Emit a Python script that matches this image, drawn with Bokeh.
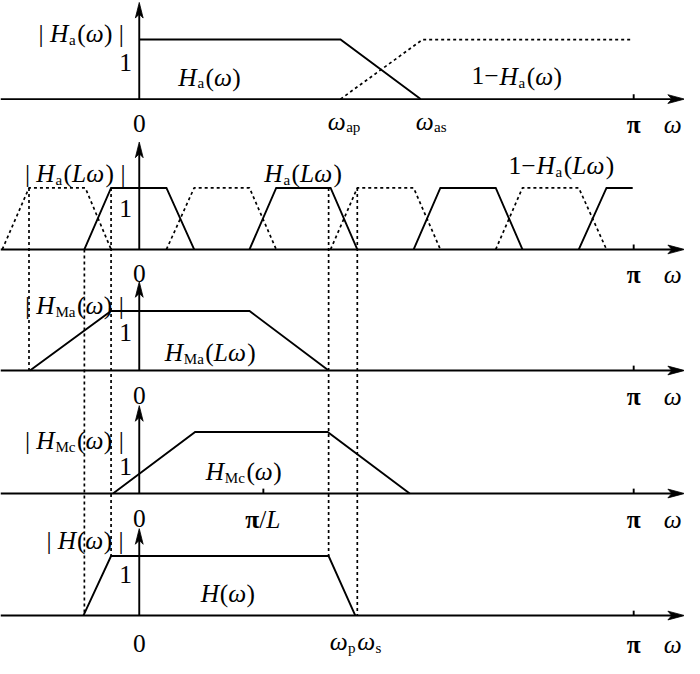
from bokeh.plotting import figure
from bokeh.models import Range1d, ColumnDataSource
from bokeh.core.properties import value
from bokeh.embed import file_html
from bokeh.resources import INLINE

# ---------------- data: frequencies in units of pi, magnitudes 0..1 ----------------
L = 6
Ha_w = [0.0, 0.407, 0.569]          # |Ha(w)|, passband edge w_ap, stopband edge w_as
Ha_v = [1, 1, 0]
Hc_w = [0.407, 0.573, 0.998]        # 1 - Ha(w)
Hc_v = [0, 1, 1]

HaL_w = [[-0.111, -0.057, 0.055, 0.111], [0.223, 0.277, 0.387, 0.441],
         [0.555, 0.609, 0.721, 0.775], [0.889, 0.945, 0.998]]
HaL_v = [[0, 1, 1, 0], [0, 1, 1, 0], [0, 1, 1, 0], [0, 1, 1]]
HcL_w = [[-0.277, -0.223, -0.109, -0.057], [0.055, 0.111, 0.223, 0.277],
         [0.387, 0.441, 0.555, 0.609], [0.721, 0.775, 0.889, 0.945]]
HcL_v = [[0, 1, 1, 0], [0, 1, 1, 0], [0, 1, 1, 0], [0, 1, 1, 0]]

HMa_w = [-0.221, -0.057, 0.223, 0.383]
HMa_v = [0, 1, 1, 0]
HMc_w = [-0.053, 0.113, 0.381, 0.547]
HMc_v = [0, 1, 1, 0]
H_w = [-0.113, -0.057, 0.383, 0.437]
H_v = [0, 1, 1, 0]

# dotted guide lines: frequency, (panel, level) at top, (panel, level) at bottom
guide_w = [-0.223, -0.111, -0.057, 0.383, 0.441]
guide_top = [(1, 1), (1, 0), (1, 1), (1, 1), (1, 1)]
guide_bot = [(2, 0), (4, 0), (4, 1), (4, 1), (4, 0)]

pi_tick = 1.0
piL_tick = 0.251

# ---------------- layout (original picture coordinates) ----------------
OW, OH = 700, 674
W, H = 684, 658
X_ZERO, X_SCALE = 142, 506
BASE = [101, 255, 379, 505, 630]
AMP = [61, 63, 61, 63, 61]
YTOP = [2, 145, 288, 415, 541]
TICKLAB = [126, 280, 405, 531, 659]
ONELAB = [64, 213, 340, 477, 588]
X_END = 700

F, S = 26.0, 15.5
SUB_DROP = 7
K = W / OW
FONT = "Liberation Serif"


def X(ws):
    return [X_ZERO + X_SCALE * w for w in ws]


def Y(k, vs):
    return [BASE[k] - AMP[k] * v for v in vs]


p = figure(width=W, height=H, x_range=Range1d(0, OW), y_range=Range1d(OH, 0),
           output_backend="svg", toolbar_location=None,
           x_axis_type=None, y_axis_type=None, min_border=0)
p.outline_line_color = None
p.background_fill_color = "white"
p.border_fill_color = "white"

LW = 1.9
INK = "black"

# axes
ax_xs, ax_ys, head_xs, head_ys = [], [], [], []
for k in range(5):
    b = BASE[k]
    ax_xs.append([0, X_END - 10]); ax_ys.append([b, b])
    ax_xs.append([X_ZERO, X_ZERO]); ax_ys.append([b, YTOP[k] + 10])
    head_xs.append([X_END, X_END - 17, X_END - 13, X_END - 17])
    head_ys.append([b, b - 4.5, b, b + 4.5])
    head_xs.append([X_ZERO, X_ZERO - 4, X_ZERO, X_ZERO + 4])
    head_ys.append([YTOP[k], YTOP[k] + 16, YTOP[k] + 12, YTOP[k] + 16])
    xp = X([pi_tick])[0]
    ax_xs.append([xp, xp]); ax_ys.append([b, b - 5])
xq = X([piL_tick])[0]
ax_xs.append([xq, xq]); ax_ys.append([BASE[3], BASE[3] - 5])
p.multi_line(ax_xs, ax_ys, line_color=INK, line_width=LW)
p.patches(head_xs, head_ys, fill_color=INK, line_color=INK, line_width=0.8)

# solid responses
sx, sy = [], []
sx.append(X(Ha_w)); sy.append(Y(0, Ha_v))
for ws, vs in zip(HaL_w, HaL_v):
    sx.append(X(ws)); sy.append(Y(1, vs))
sx.append(X(HMa_w)); sy.append(Y(2, HMa_v))
sx.append(X(HMc_w)); sy.append(Y(3, HMc_v))
sx.append(X(H_w)); sy.append(Y(4, H_v))
p.multi_line(sx, sy, line_color=INK, line_width=LW, line_join="miter")

# dotted responses and guides
dx, dy = [], []
dx.append(X(Hc_w)); dy.append(Y(0, Hc_v))
for ws, vs in zip(HcL_w, HcL_v):
    dx.append(X(ws)); dy.append(Y(1, vs))
for w, (kt, lt), (kb, lb) in zip(guide_w, guide_top, guide_bot):
    xg = X([w])[0]
    dx.append([xg, xg]); dy.append([Y(kt, [lt])[0], Y(kb, [lb])[0]])
p.multi_line(dx, dy, line_color=INK, line_width=1.7, line_dash="3 3")

# ---------------- texts ----------------
ADV_R = {'|': 0.2, ' ': 0.25, '(': 0.333, ')': 0.333, '1': 0.5, '0': 0.5,
         '−': 0.6, 'π': 0.55, '/': 0.278, 'a': 0.444, 'p': 0.5, 's': 0.389,
         'M': 0.889, 'c': 0.444}
ADV_I = {'H': 0.75, 'L': 0.6, 'ω': 0.72}
groups = {k: {"x": [], "y": [], "t": []} for k in "IRSB"}


def rich(x, y, runs, anchor="left"):
    items, cx = [], 0.0
    for txt, kind in runs:
        size = S if kind == "S" else F
        tab = ADV_I if kind == "I" else ADV_R
        wdt = sum(tab.get(c, 0.5) for c in txt) * size
        items.append((cx, txt, kind))
        cx += wdt + (1.5 if kind == "S" else 0)
    off = 0 if anchor == "left" else -cx / 2
    for ddx, txt, kind in items:
        g = groups[kind]
        g["x"].append(x + off + ddx)
        g["y"].append(y + SUB_DROP if kind == "S" else y)
        g["t"].append(txt)


for k in range(5):
    rich(X_ZERO, TICKLAB[k], [("0", "R")], "center")
    rich(X([pi_tick])[0], TICKLAB[k], [("π", "B")], "center")
    rich(688, TICKLAB[k], [("ω", "I")], "center")
    rich(128, ONELAB[k], [("1", "R")], "center")

rich(39, 33, [("| ", "R"), ("H", "I"), ("a", "S"), ("(", "R"), ("ω", "I"), (") |", "R")])
rich(182, 78, [("H", "I"), ("a", "S"), ("(", "R"), ("ω", "I"), (")", "R")])
rich(482, 77, [("1−", "R"), ("H", "I"), ("a", "S"), ("(", "R"), ("ω", "I"), (")", "R")])
rich(335, 123, [("ω", "I"), ("ap", "S")])
rich(425, 123, [("ω", "I"), ("as", "S")])

rich(25, 177, [("| ", "R"), ("H", "I"), ("a", "S"), ("(", "R"), ("Lω", "I"), (") |", "R")])
rich(270, 177, [("H", "I"), ("a", "S"), ("(", "R"), ("Lω", "I"), (")", "R")])
rich(520, 169, [("1−", "R"), ("H", "I"), ("a", "S"), ("(", "R"), ("Lω", "I"), (")", "R")])

rich(25, 312, [("| ", "R"), ("H", "I"), ("Ma", "S"), ("(", "R"), ("ω", "I"), (") |", "R")])
rich(168, 360, [("H", "I"), ("Ma", "S"), ("(", "R"), ("Lω", "I"), (")", "R")])

rich(25, 450, [("| ", "R"), ("H", "I"), ("Mc", "S"), ("(", "R"), ("ω", "I"), (") |", "R")])
rich(210, 482, [("H", "I"), ("Mc", "S"), ("(", "R"), ("ω", "I"), (")", "R")])
rich(X([piL_tick])[0], TICKLAB[3], [("π", "B"), ("/", "R"), ("L", "I")], "center")

rich(47, 553, [("| ", "R"), ("H", "I"), ("(", "R"), ("ω", "I"), (") |", "R")])
rich(205, 607, [("H", "I"), ("(", "R"), ("ω", "I"), (")", "R")])
rich(337, 656, [("ω", "I"), ("p", "S"), ("ω", "I"), ("s", "S")])

for kind, style, size in (("I", "italic", F), ("R", "normal", F),
                          ("S", "normal", S), ("B", "bold", F)):
    g = groups[kind]
    src = ColumnDataSource(dict(x=g["x"], y=g["y"], t=g["t"]))
    p.text(x="x", y="y", text="t", source=src, text_font=value(FONT),
           text_font_style=style, text_font_size=f"{size * K:.1f}px",
           text_baseline="alphabetic", text_align="left", text_color=INK)

open("out.html", "w").write(file_html(p, INLINE))
